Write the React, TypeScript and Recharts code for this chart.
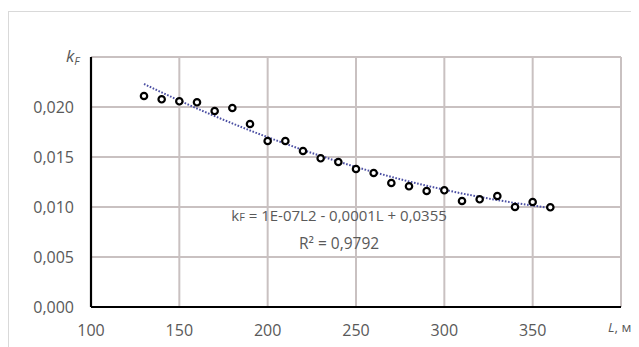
import React from "react";
import {
  ComposedChart,
  Scatter,
  Line,
  XAxis,
  YAxis,
  CartesianGrid,
  ReferenceDot,
} from "recharts";

const lengths = [130, 140, 150, 160, 170, 180, 190, 200, 210, 220, 230, 240, 250, 260, 270, 280, 290, 300, 310, 320, 330, 340, 350, 360];
const kValues = [0.0211, 0.02077, 0.02057, 0.02047, 0.0196, 0.0199, 0.0183, 0.0166, 0.0166, 0.0156, 0.01487, 0.0145, 0.0138, 0.0134, 0.0124, 0.01207, 0.0116, 0.01167, 0.0106, 0.01077, 0.0111, 0.01, 0.0105, 0.00997];
const trendValues = [0.0223, 0.02146, 0.02064, 0.01985, 0.01909, 0.01836, 0.01765, 0.01698, 0.01633, 0.0157, 0.01511, 0.01454, 0.014, 0.01349, 0.01301, 0.01255, 0.01213, 0.01173, 0.01135, 0.01101, 0.01069, 0.0104, 0.01014, 0.00991];
const xTicks = [100, 150, 200, 250, 300, 350, 400];
const yTicks = [0, 0.005, 0.01, 0.015, 0.02, 0.025];
const equationText = "= 1E-07L2 - 0,0001L + 0,0355";
const r2Text = "R² = 0,9792";

const data = lengths.map((L, i) => ({ L, k: kValues[i], trend: trendValues[i] }));

const FONT = "'Open Sans', sans-serif";
const TEXT = "#595959";
const GRID = "#c9c1c1";

const XTick = (props: any) => {
  const { x, y, payload } = props;
  if (payload.value === 400) {
    return (
      <text x={x - 13} y={y + 17} fontFamily={FONT} fontSize={13.5} fill={TEXT}>
        <tspan fontStyle="italic">L</tspan>, м
      </text>
    );
  }
  return (
    <text x={x} y={y + 21} textAnchor="middle" fontFamily={FONT} fontSize={16} fill={TEXT}>
      {payload.value}
    </text>
  );
};

const YTick = (props: any) => {
  const { x, y, payload } = props;
  if (payload.value === 0.025) {
    return (
      <text x={x - 17} y={y + 5} fontFamily={FONT} fontSize={17} fill={TEXT} fontStyle="italic">
        k<tspan fontSize={11} dy={3}>F</tspan>
      </text>
    );
  }
  return (
    <text x={x - 9} y={y + 6} textAnchor="end" fontFamily={FONT} fontSize={16} fill={TEXT}>
      {payload.value.toFixed(3).replace(".", ",")}
    </text>
  );
};

const Ring = (props: any) => {
  const { cx, cy } = props;
  return <circle cx={cx} cy={cy} r={3.2} fill="#ffffff" stroke="#000000" strokeWidth={2.2} />;
};

const EquationLabel = (props: any) => {
  const { cx, cy } = props;
  return (
    <text x={cx} y={cy} textAnchor="middle" fontFamily={FONT} fontSize={15} fill={TEXT}>
      k<tspan fontSize={11}>F</tspan> {equationText}
    </text>
  );
};

const R2Label = (props: any) => {
  const { cx, cy } = props;
  return (
    <text x={cx} y={cy} textAnchor="middle" fontFamily={FONT} fontSize={15.5} fill={TEXT}>
      {r2Text}
    </text>
  );
};

export default function App() {
  return (
    <div
      style={{
        marginTop: 3,
        width: 640,
        height: 336,
        borderTop: "1px solid #d9d9d9",
        borderLeft: "1px solid #d9d9d9",
      }}
    >
      <ComposedChart
        width={630}
        height={335}
        data={data}
        margin={{ top: 45, right: 18, left: 0, bottom: 0 }}
      >
        <CartesianGrid stroke={GRID} strokeWidth={2} strokeDasharray="" />
        <XAxis
          type="number"
          dataKey="L"
          domain={[100, 400]}
          ticks={xTicks}
          height={40}
          axisLine={{ stroke: "#000000", strokeWidth: 2.2 }}
          tickLine={false}
          tick={<XTick />}
          interval={0}
        />
        <YAxis
          type="number"
          domain={[0, 0.025]}
          ticks={yTicks}
          width={82}
          axisLine={{ stroke: "#000000", strokeWidth: 2.2 }}
          tickLine={false}
          tick={<YTick />}
          interval={0}
        />
        <Line
          dataKey="trend"
          stroke="#4b4fa3"
          strokeWidth={2}
          strokeDasharray="1.6 1.6"
          dot={false}
          activeDot={false}
          isAnimationActive={false}
        />
        <Scatter dataKey="k" shape={<Ring />} isAnimationActive={false} />
        <ReferenceDot x={240.4} y={0.0086} r={0} shape={<EquationLabel />} />
        <ReferenceDot x={240.4} y={0.0058} r={0} shape={<R2Label />} />
      </ComposedChart>
    </div>
  );
}
